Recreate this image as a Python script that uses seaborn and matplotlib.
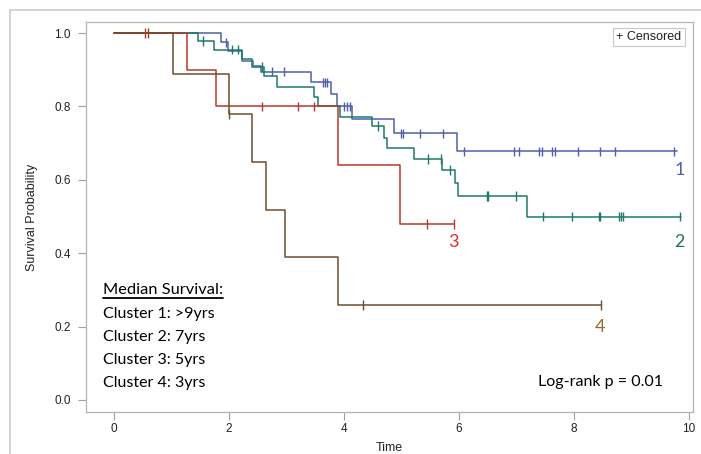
import numpy as np
import pandas as pd
import matplotlib
matplotlib.use("Agg")
import matplotlib.pyplot as plt
from matplotlib.lines import Line2D
import seaborn as sns

# Kaplan-Meier step values (time, survival)
CLUSTERS = ["1", "2", "3", "4"]

c1_time = [0, 1.86, 1.98, 2.23, 2.42, 2.55, 3.42, 3.77, 3.87, 4.14, 4.87, 5.97, 9.80]
c1_surv = [1.0, 0.975, 0.95, 0.925, 0.91, 0.895, 0.866, 0.833, 0.80, 0.766, 0.727, 0.678, 0.678]
c1_cens = [1.95, 2.75, 2.96, 3.63, 3.67, 3.70, 4.00, 4.05, 4.10, 4.99, 5.03, 5.32, 5.72,
           6.09, 6.96, 7.05, 7.40, 7.44, 7.62, 7.67, 8.07, 8.45, 8.71, 9.74]

c2_time = [0, 1.46, 1.74, 2.23, 2.40, 2.61, 2.83, 3.48, 3.55, 3.93, 4.49, 4.70, 4.75,
           5.22, 5.71, 5.93, 5.98, 7.18, 9.86]
c2_surv = [1.0, 0.978, 0.955, 0.93, 0.907, 0.884, 0.853, 0.826, 0.80, 0.772, 0.747, 0.715,
           0.687, 0.657, 0.627, 0.59, 0.556, 0.50, 0.50]
c2_cens = [1.55, 2.05, 2.15, 2.58, 4.60, 5.46, 5.69, 5.84, 6.48, 6.51, 7.00, 7.46, 7.97,
           8.44, 8.46, 8.78, 8.82, 8.85, 9.84]

c3_time = [0, 1.27, 1.77, 3.90, 4.97, 5.92]
c3_surv = [1.0, 0.90, 0.80, 0.64, 0.48, 0.48]
c3_cens = [0.54, 2.57, 3.20, 3.48, 5.45, 5.92]

c4_time = [0, 1.03, 2.00, 2.40, 2.64, 2.97, 3.90, 8.47]
c4_surv = [1.0, 0.889, 0.778, 0.648, 0.519, 0.389, 0.259, 0.259]
c4_cens = [0.60, 2.00, 4.33, 8.47]

MEDIANS = ["Cluster 1: >9yrs", "Cluster 2: 7yrs", "Cluster 3: 5yrs", "Cluster 4: 3yrs"]
PVALUE_TEXT = "Log-rank p = 0.01"

LINE_COLORS = {"1": "#4f5fa8", "2": "#1b7a6a", "3": "#b5382c", "4": "#6e4d2c"}
LABEL_COLORS = {"1": "#4f5fb0", "2": "#1e7a4c", "3": "#e0302a", "4": "#9a6a2a"}
# where the curve numbers sit (time, survival)
LABEL_POS = {"1": (9.84, 0.627), "2": (9.84, 0.43), "3": (5.9, 0.43), "4": (8.45, 0.199)}

curves = {
    "1": (c1_time, c1_surv, c1_cens),
    "2": (c2_time, c2_surv, c2_cens),
    "3": (c3_time, c3_surv, c3_cens),
    "4": (c4_time, c4_surv, c4_cens),
}

step_rows = []
cens_rows = []
for name in CLUSTERS:
    t, s, cens = curves[name]
    for ti, si in zip(t, s):
        step_rows.append({"time": ti, "surv": si, "cluster": name})
    t_arr = np.asarray(t)
    for c in cens:
        # censor tick sits on the curve value at that time
        idx = np.searchsorted(t_arr, c, side="right") - 1
        cens_rows.append({"time": c, "surv": s[idx], "cluster": name})

steps = pd.DataFrame(step_rows)
censored = pd.DataFrame(cens_rows)

sns.set_style("white")
plt.rcParams["font.family"] = ["Liberation Sans", "DejaVu Sans"]

W, H = 701, 454
fig = plt.figure(figsize=(W / 100, H / 100), dpi=100)
ax = fig.add_axes([86 / W, 1 - 412 / H, (693 - 86) / W, (412 - 22) / H])

sns.lineplot(data=steps, x="time", y="surv", hue="cluster", palette=LINE_COLORS,
             hue_order=CLUSTERS, drawstyle="steps-post", estimator=None,
             linewidth=1.1, legend=False, ax=ax)
sns.scatterplot(data=censored, x="time", y="surv", hue="cluster", palette=LINE_COLORS,
                hue_order=CLUSTERS, marker="|", s=45, linewidth=1.0,
                legend=False, ax=ax, zorder=3)

ax.set_xlim(-0.487, 10.07)
ax.set_ylim(-0.0327, 1.03)
ax.set_xticks([0, 2, 4, 6, 8, 10])
ax.set_yticks([0.0, 0.2, 0.4, 0.6, 0.8, 1.0])
ax.set_yticklabels([f"{v:.1f}" for v in [0.0, 0.2, 0.4, 0.6, 0.8, 1.0]])
ax.tick_params(axis="both", length=6, width=0.8, color="#a0a0a0", labelsize=8.5,
               labelcolor="#222222", direction="out", left=True, bottom=True)
ax.tick_params(axis="y", pad=5)
ax.tick_params(axis="x", pad=2)
for sp in ax.spines.values():
    sp.set_color("#b4b4b4")
    sp.set_linewidth(0.9)

ax.set_xlabel("Time", fontsize=9, color="#222222", labelpad=5)
ax.set_ylabel("Survival Probability", fontsize=9, color="#222222", labelpad=12)

# curve numbers
for name in CLUSTERS:
    x, y = LABEL_POS[name]
    ax.text(x, y, name, color=LABEL_COLORS[name], fontsize=13, ha="center",
            va="center", family=["Lato", "DejaVu Sans"])

# median survival block
head = ax.text(-0.19, 0.30, "Median Survival:", fontsize=11.8, ha="left", va="center",
               family=["Lato", "DejaVu Sans"], color="black")
for i, line in enumerate(MEDIANS):
    ax.text(-0.19, 0.234 - i * 0.0625, line, fontsize=11.5, ha="left", va="center",
            family=["Lato", "DejaVu Sans"], color="black")
ax.text(7.37, 0.049, PVALUE_TEXT, fontsize=11.5, ha="left", va="center",
        family=["Lato", "DejaVu Sans"], color="black")

fig.canvas.draw()
bb = head.get_window_extent(renderer=fig.canvas.get_renderer())
inv = fig.transFigure.inverted()
(x0, y0), (x1, y1) = inv.transform([(bb.x0, bb.y0), (bb.x1, bb.y0)])
fig.add_artist(Line2D([x0, x1], [y0 - 0.002, y0 - 0.002], color="black", lw=1.3))

ax.text(0.9275, 0.9615, "+ Censored", transform=ax.transAxes, fontsize=9,
        ha="center", va="center", color="#222222",
        bbox=dict(boxstyle="square,pad=0.25", fc="white", ec="#c8c8c8", lw=0.8))

# outer frame of the original graphic
fig.add_artist(Line2D([10 / W, 1], [1 - 10 / H, 1 - 10 / H], color="#cccccc", lw=1.2))
fig.add_artist(Line2D([10 / W, 10 / W], [0, 1 - 10 / H], color="#cccccc", lw=1.2))

fig.savefig("out.png", dpi=100)
